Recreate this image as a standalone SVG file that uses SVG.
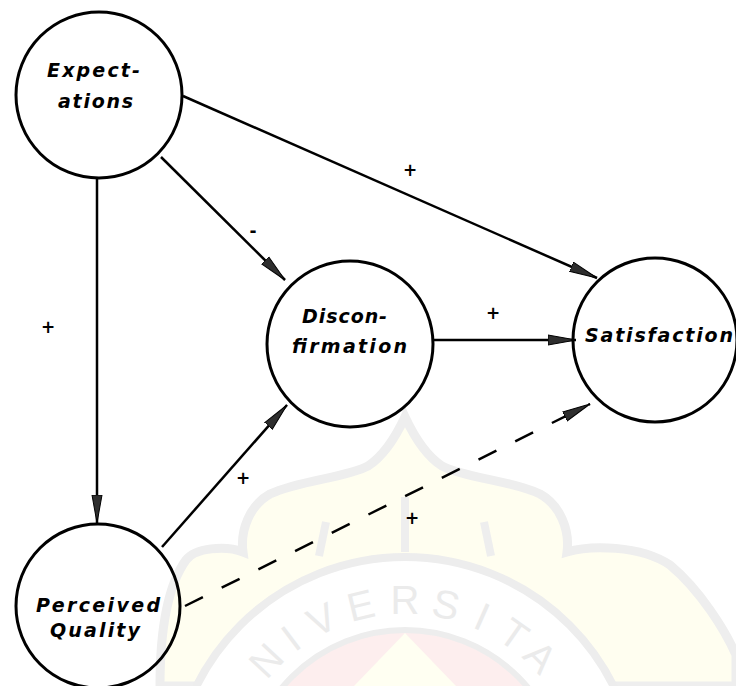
<svg xmlns="http://www.w3.org/2000/svg" width="736" height="686" viewBox="0 0 736 686">
<style>
.node{fill:none;stroke:#000;stroke-width:3}
.lbl{font-family:"DejaVu Sans","Liberation Sans",sans-serif;font-weight:bold;font-style:italic;font-size:19px;fill:#000}
.sign{font-family:"DejaVu Sans","Liberation Sans",sans-serif;font-weight:bold;font-size:17px;fill:#000;text-anchor:middle}
.wm{font-family:"Liberation Sans",Arial,sans-serif;font-size:40px;fill:#ebebeb;text-anchor:middle}
</style>
<defs>
<marker id="ah" markerUnits="userSpaceOnUse" markerWidth="30" markerHeight="14" refX="28" refY="7" orient="auto">
<path d="M0,2 L28,7 L0,12 Z" fill="#2e2e2e" stroke="#000" stroke-width="1"/>
</marker>
</defs>
<rect width="736" height="686" fill="#fff"/>
<g id="watermark">
<path d="M160,686 C160,630 168,585 186,560 C195,548 225,545 243,552 C240,530 250,505 270,494 C300,480 345,478 368,466 C385,455 398,432 405,417 C412,432 425,455 442,466 C465,478 510,480 540,494 C560,505 570,530 567,552 C590,545 640,545 670,565 C700,590 725,630 736,655 L736,686 Z" fill="#fffef0" stroke="#eeeeee" stroke-width="9"/>
<g stroke="#eeeeee" stroke-width="8" fill="none">
<line x1="326" y1="522" x2="319" y2="556"/>
<line x1="405" y1="497" x2="405" y2="552"/>
<line x1="484" y1="522" x2="491" y2="556"/>
</g>
<circle cx="405" cy="790" r="233" fill="#fff" stroke="#ededed" stroke-width="8"/>
<circle cx="405" cy="790" r="160" fill="#fdeeee" stroke="#ededed" stroke-width="6"/>
<path d="M405,633 L354,686 L456,686 Z" fill="#fffff2"/>
<g>
<text class="wm" x="405" y="614" transform="rotate(-47 405 790)">N</text>
<text class="wm" x="405" y="614" transform="rotate(-37 405 790)">I</text>
<text class="wm" x="405" y="614" transform="rotate(-26 405 790)">V</text>
<text class="wm" x="405" y="614" transform="rotate(-13.5 405 790)">E</text>
<text class="wm" x="405" y="614" transform="rotate(0 405 790)">R</text>
<text class="wm" x="405" y="614" transform="rotate(12.5 405 790)">S</text>
<text class="wm" x="405" y="614" transform="rotate(24 405 790)">I</text>
<text class="wm" x="405" y="614" transform="rotate(35 405 790)">T</text>
<text class="wm" x="405" y="614" transform="rotate(45.5 405 790)">A</text>
</g>
</g>
<g id="connectors" fill="none" stroke="#000" stroke-width="2.5">
<line x1="183" y1="96" x2="597" y2="278" marker-end="url(#ah)"/>
<line x1="161" y1="157" x2="285" y2="280" marker-end="url(#ah)"/>
<line x1="97" y1="178" x2="97" y2="523" marker-end="url(#ah)"/>
<line x1="433" y1="340" x2="576" y2="340" marker-end="url(#ah)"/>
<line x1="162" y1="547" x2="287" y2="405" marker-end="url(#ah)"/>
<line x1="185" y1="606" x2="590" y2="404" stroke-dasharray="20 21" marker-end="url(#ah)"/>
</g>
<g id="signs">
<text class="sign" x="410" y="176">+</text>
<text class="sign" x="253" y="237">-</text>
<text class="sign" x="493" y="319">+</text>
<text class="sign" x="48" y="333">+</text>
<text class="sign" x="243" y="484">+</text>
<text class="sign" x="412" y="524">+</text>
</g>
<g id="expectations">
<circle class="node" cx="99" cy="95" r="83"/>
<text class="lbl" x="47" y="77" textLength="93" lengthAdjust="spacing">Expect-</text>
<text class="lbl" x="58" y="108" textLength="75" lengthAdjust="spacing">ations</text>
</g>
<g id="disconfirmation">
<circle class="node" cx="350" cy="344" r="83"/>
<text class="lbl" x="302" y="323" textLength="85" lengthAdjust="spacing">Discon-</text>
<text class="lbl" x="292" y="353" textLength="115" lengthAdjust="spacing">firmation</text>
</g>
<g id="satisfaction">
<circle class="node" cx="655" cy="340" r="82"/>
<text class="lbl" x="585" y="342" textLength="148" lengthAdjust="spacing">Satisfaction</text>
</g>
<g id="perceived-quality">
<circle class="node" cx="98" cy="606" r="82"/>
<text class="lbl" x="36" y="612" textLength="124" lengthAdjust="spacing">Perceived</text>
<text class="lbl" x="50" y="637" textLength="90" lengthAdjust="spacing">Quality</text>
</g>
</svg>
